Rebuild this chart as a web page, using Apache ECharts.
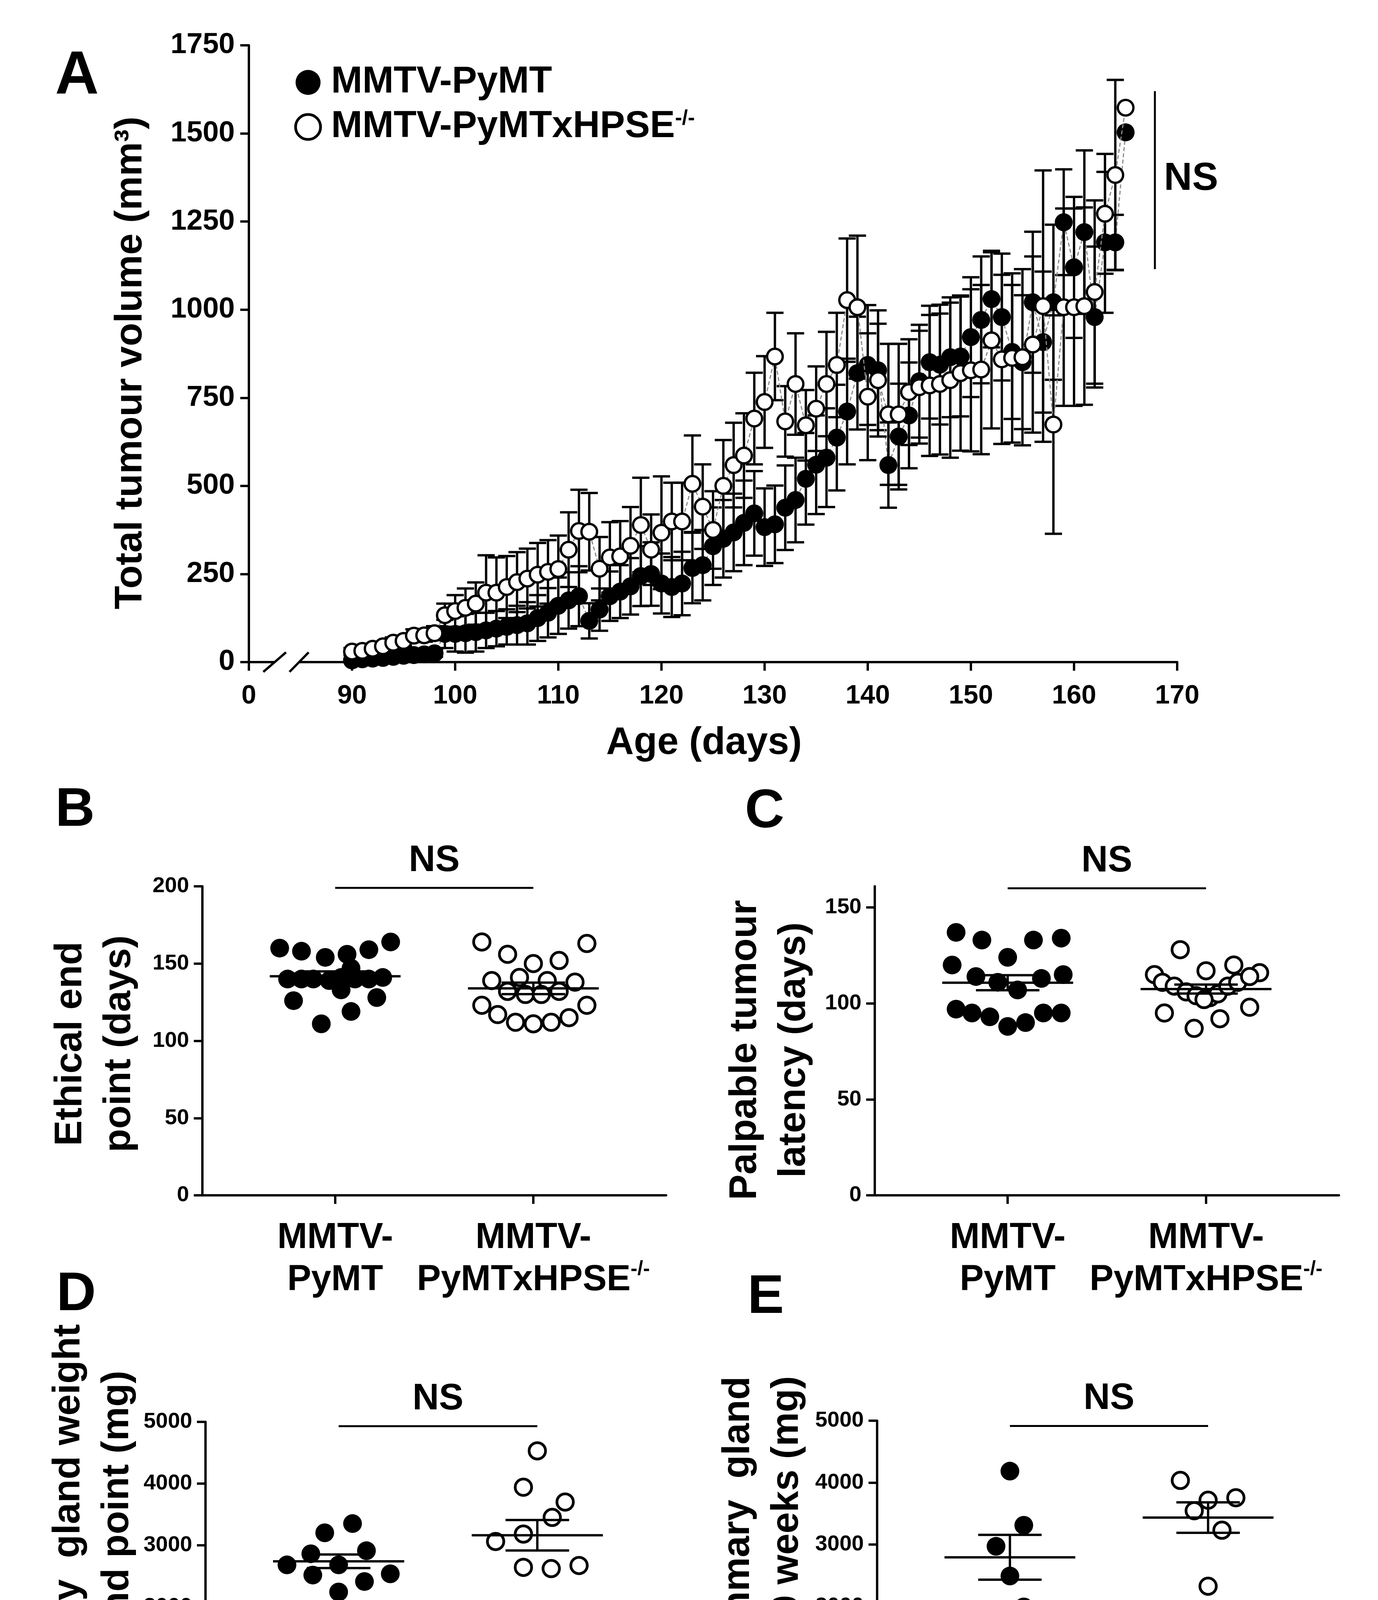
<!DOCTYPE html>
<html>
<head>
<meta charset="utf-8">
<script src="https://cdn.jsdelivr.net/npm/echarts@6/dist/echarts.min.js"></script>
<style>
  html, body { margin: 0; padding: 0; background: #fff; }
  #main { width: 3527px; height: 4851px; }
</style>
</head>
<body>
<div id="main"></div>
<script>
var FONT = '"Liberation Sans", Arial, Helvetica, sans-serif';

// ---- panel A: tumour volume by age (mean, SEM) ----
var days = [90, 91, 92, 93, 94, 95, 96, 97, 98, 99,
  100, 101, 102, 103, 104, 105, 106, 107, 108, 109,
  110, 111, 112, 113, 114, 115, 116, 117, 118, 119,
  120, 121, 122, 123, 124, 125, 126, 127, 128, 129,
  130, 131, 132, 133, 134, 135, 136, 137, 138, 139,
  140, 141, 142, 143, 144, 145, 146, 147, 148, 149,
  150, 151, 152, 153, 154, 155, 156, 157, 158, 159,
  160, 161, 162, 163, 164, 165];
var pymtMean = [5, 8, 10, 12, 15, 18, 20, 22, 25,
  80, 80, 82, 85, 90, 95, 100, 105, 110, 125,
  140, 160, 175, 187, 117, 149, 187, 200, 215, 244,
  250, 223, 213, 223, 267, 275, 329, 350, 368, 395,
  422, 383, 391, 438, 460, 520, 560, 580, 637, 711,
  820, 843, 828, 559, 640, 700, 797, 851, 844, 865,
  867, 922, 971, 1030, 979, 880, 851, 1021, 908, 1021,
  1248, 1120, 1220, 979, 1191, 1191, 1503];
var pymtSem = [5, 5, 6, 6, 7, 8, 8, 9, 10,
  40, 50, 55, 55, 50, 50, 50, 55, 60, 65,
  70, 80, 80, 85, 50, 60, 70, 75, 80, 85,
  90, 85, 85, 90, 100, 100, 110, 110, 110, 120,
  120, 110, 110, 120, 120, 130, 140, 140, 150, 150,
  160, 170, 170, 121, 150, 150, 160, 160, 170, 170,
  170, 170, 180, 137, 180, 190, 190, 200, 200, 220,
  150, 200, 232, 200, 200, 78, 0];
var hpseMean = [30, 32, 38, 45, 55, 60, 75, 76, 82,
  133, 145, 154, 166, 197, 197, 213, 227, 237, 248,
  256, 264, 319, 372, 370, 265, 297, 300, 330, 389,
  319, 367, 399, 399, 506, 441, 375, 500, 559, 586,
  691, 738, 867, 683, 789, 672, 719, 789, 843, 1027,
  1007, 753, 800, 703, 703, 766, 780, 785, 789, 800,
  820, 828, 830, 913, 859, 863, 865, 901, 1010, 674,
  1007, 1007, 1010, 1050, 1272, 1382, 1573];
var hpseSem = [10, 10, 12, 12, 15, 15, 18, 18, 20,
  33, 45, 55, 60, 106, 100, 88, 85, 85, 90,
  90, 95, 106, 117, 110, 90, 100, 100, 110, 134,
  100, 160, 110, 110, 137, 120, 110, 130, 120, 120,
  130, 130, 124, 100, 144, 100, 120, 148, 148, 175,
  203, 180, 160, 200, 200, 150, 160, 200, 200, 220,
  220, 230, 240, 250, 240, 240, 250, 250, 385, 310,
  280, 280, 280, 260, 170, 270, 0];
var ageTicks = [80, 90, 100, 110, 120, 130, 140, 150, 160, 170];   // 80 is shown as the broken "0"
var volumeTicks = [0, 250, 500, 750, 1000, 1250, 1500, 1750];

// ---- panels B-E: individual mice (value, horizontal jitter) ----
var bPymt = [160, 158, 154, 156, 159, 164, 140, 140, 140, 139, 141, 140, 140, 141, 147, 133, 126, 128, 119, 111];
var bPymtX = [-0.28, -0.17, -0.05, 0.06, 0.17, 0.28, -0.24, -0.17, -0.11, -0.03, 0.03, 0.10, 0.17, 0.24, 0.08, 0.03, -0.21, 0.21, 0.08, -0.07];
var bHpse = [164, 156, 150, 152, 163, 139, 141, 139, 138, 132, 130, 130, 132, 123, 123, 117, 112, 111, 112, 115];
var bHpseX = [-0.26, -0.13, 0, 0.13, 0.27, -0.21, -0.07, 0.07, 0.21, -0.13, -0.04, 0.04, 0.13, -0.26, 0.27, -0.18, -0.09, 0, 0.09, 0.18];

var cPymt = [137, 133, 124, 133, 134, 120, 114, 111, 107, 113, 115, 97, 95, 93, 88, 90, 95, 95];
var cPymtX = [-0.26, -0.13, 0, 0.13, 0.27, -0.28, -0.16, -0.05, 0.05, 0.17, 0.28, -0.26, -0.18, -0.09, 0, 0.09, 0.18, 0.27];
var cHpse = [128, 115, 117, 120, 116, 111, 109, 106, 104, 103, 105, 109, 111, 114, 95, 87, 92, 98, 102];
var cHpseX = [-0.13, -0.26, 0, 0.14, 0.27, -0.22, -0.16, -0.10, -0.05, 0.02, 0.06, 0.11, 0.16, 0.22, -0.21, -0.06, 0.07, 0.22, -0.01];

var dPymt = [3350, 3200, 2860, 2910, 2680, 2680, 2515, 2535, 2410, 2240];
var dPymtX = [0.07, -0.07, -0.14, 0.14, -0.26, 0, -0.13, 0.26, 0.13, 0];
var dHpse = [4530, 3940, 3700, 3450, 3180, 3060, 2640, 2620, 2670, 1810];
var dHpseX = [0, -0.07, 0.14, 0.075, -0.07, -0.21, -0.07, 0.07, 0.21, 0];

var ePymt = [4185, 3310, 2970, 2490, 1990, 1810];
var ePymtX = [0, 0.07, -0.07, 0, 0.07, -0.07];
var eHpse = [4035, 3715, 3755, 3545, 3230, 2325];
var eHpseX = [-0.14, 0, 0.14, -0.07, 0.07, 0];

var endPointTicks = [0, 50, 100, 150, 200];
var latencyTicks = [0, 50, 100, 150];
var weightTicks = [0, 1000, 2000, 3000, 4000, 5000];
var groups = ['MMTV-\nPyMT', 'MMTV-\nPyMTxHPSE{sup|-/-}'];
var seriesNames = ['MMTV-PyMT', 'MMTV-PyMTxHPSE-/-'];

var chart = echarts.init(document.getElementById('main'));

function axisBase(size, margin) {
  return {
    axisLine: { show: true, onZero: false, lineStyle: { color: '#000', width: 6 } },
    axisTick: { show: true, inside: false, length: 22, lineStyle: { color: '#000', width: 6 } },
    axisLabel: { color: '#000', fontSize: size, fontWeight: 'bold', fontFamily: FONT, margin: margin },
    splitLine: { show: false }
  };
}
function merge(a, b) {
  var o = {};
  for (var k in a) o[k] = a[k];
  for (var j in b) {
    if (o[j] && typeof o[j] === 'object' && typeof b[j] === 'object' && !Array.isArray(b[j])) {
      o[j] = merge(o[j], b[j]);
    } else {
      o[j] = b[j];
    }
  }
  return o;
}

function meanSem(vals) {
  var n = vals.length;
  var m = vals.reduce(function (a, b) { return a + b; }, 0) / n;
  var ss = vals.reduce(function (a, b) { return a + (b - m) * (b - m); }, 0);
  return [m, Math.sqrt(ss / (n - 1)) / Math.sqrt(n)];
}
function dots(vals, offs, cat) {
  return vals.map(function (v, i) { return [cat + offs[i], v]; });
}

var lineW = { stroke: '#000', lineWidth: 6 };

// vertical SEM bar with caps
function errorBar(params, api) {
  var x = api.value(0), m = api.value(1), e = api.value(2);
  if (!e) return null;
  var hi = api.coord([x, m + e]), lo = api.coord([x, m - e]);
  return {
    type: 'group',
    children: [
      { type: 'line', shape: { x1: hi[0], y1: hi[1], x2: lo[0], y2: lo[1] }, style: lineW },
      { type: 'line', shape: { x1: hi[0] - 22, y1: hi[1], x2: hi[0] + 22, y2: hi[1] }, style: lineW },
      { type: 'line', shape: { x1: lo[0] - 22, y1: lo[1], x2: lo[0] + 22, y2: lo[1] }, style: lineW }
    ]
  };
}

// mean line plus SEM whiskers
function meanSemItem(params, api) {
  var x = api.value(0), m = api.value(1), e = api.value(2);
  var a = api.coord([x - 0.33, m]), b = api.coord([x + 0.33, m]);
  var hi = api.coord([x, m + e]), lo = api.coord([x, m - e]);
  var cl = api.coord([x - 0.16, m])[0], cr = api.coord([x + 0.16, m])[0];
  return {
    type: 'group',
    children: [
      { type: 'line', shape: { x1: a[0], y1: a[1], x2: b[0], y2: b[1] }, style: lineW },
      { type: 'line', shape: { x1: hi[0], y1: hi[1], x2: lo[0], y2: lo[1] }, style: lineW },
      { type: 'line', shape: { x1: cl, y1: hi[1], x2: cr, y2: hi[1] }, style: lineW },
      { type: 'line', shape: { x1: cl, y1: lo[1], x2: cr, y2: lo[1] }, style: lineW }
    ]
  };
}

var nsLabel = { show: true, formatter: 'NS', color: '#000', fontSize: 94, fontWeight: 'bold', fontFamily: FONT };
var plain = function (v) { return String(v); };

var grids = [
  { left: 637, top: 116, width: 2376, height: 1579 },
  { left: 518, top: 2269, width: 1187, height: 791 },
  { left: 2239, top: 2269, width: 1188, height: 791 },
  { left: 526, top: 3640, width: 1190, height: 789 },
  { left: 2245, top: 3637, width: 1187, height: 792 }
];

var xAxes = [merge(axisBase(68, 53), {
  type: 'value', gridIndex: 0, min: ageTicks[0], max: ageTicks[ageTicks.length - 1], interval: 10,
  axisLabel: { formatter: function (v) { return v === ageTicks[0] ? '0' : String(v); } }
})];
var yAxes = [merge(axisBase(74, 36), {
  type: 'value', gridIndex: 0, min: 0, max: volumeTicks[volumeTicks.length - 1], interval: 250,
  axisLabel: { formatter: plain }
})];

var series = [
  {
    type: 'custom', name: 'pymtErr', xAxisIndex: 0, yAxisIndex: 0, z: 2,
    renderItem: errorBar,
    data: days.map(function (d, i) { return [d, pymtMean[i], pymtSem[i]]; })
  },
  {
    type: 'line', name: seriesNames[0], xAxisIndex: 0, yAxisIndex: 0, z: 3,
    data: days.map(function (d, i) { return [d, pymtMean[i]]; }),
    symbol: 'circle', symbolSize: 46, showAllSymbol: true,
    itemStyle: { color: '#000', opacity: 1 },
    lineStyle: { color: '#8a8a8a', width: 3, type: [10, 6] }
  },
  {
    type: 'custom', name: 'hpseErr', xAxisIndex: 0, yAxisIndex: 0, z: 4,
    renderItem: errorBar,
    data: days.map(function (d, i) { return [d, hpseMean[i], hpseSem[i]]; })
  },
  {
    type: 'line', name: seriesNames[1], xAxisIndex: 0, yAxisIndex: 0, z: 5,
    data: days.map(function (d, i) { return [d, hpseMean[i]]; }),
    symbol: 'circle', symbolSize: 40, showAllSymbol: true,
    itemStyle: { color: '#fff', borderColor: '#000', borderWidth: 6, opacity: 1 },
    lineStyle: { color: '#8a8a8a', width: 3, type: [10, 6] }
  },
  {
    type: 'line', xAxisIndex: 0, yAxisIndex: 0, z: 6, symbol: 'none',
    data: [[167.84, 1115], [167.84, 1620]],
    lineStyle: { color: '#000', width: 5 }
  },
  {
    type: 'scatter', xAxisIndex: 0, yAxisIndex: 0, z: 6, symbolSize: 0,
    itemStyle: { color: '#000', opacity: 1 },
    data: [[167.84, 1371]],
    label: merge(nsLabel, { position: 'right', distance: 22, fontSize: 100 })
  }
];

var dotPanels = [
  { pymt: bPymt, pymtX: bPymtX, hpse: bHpse, hpseX: bHpseX, max: 200, ticks: endPointTicks, ns: 199 },
  { pymt: cPymt, pymtX: cPymtX, hpse: cHpse, hpseX: cHpseX, max: 161, ticks: latencyTicks, ns: 160 },
  { pymt: dPymt, pymtX: dPymtX, hpse: dHpse, hpseX: dHpseX, max: 5000, ticks: weightTicks, ns: 4930 },
  { pymt: ePymt, pymtX: ePymtX, hpse: eHpse, hpseX: eHpseX, max: 5000, ticks: weightTicks, ns: 4915 }
];

dotPanels.forEach(function (p, k) {
  var gi = k + 1;
  var step = p.ticks[1] - p.ticks[0];
  xAxes.push(merge(axisBase(92, 56), {
    type: 'value', gridIndex: gi, min: 0.33, max: 2.67,
    axisTick: { customValues: [1, 2] },
    axisLabel: {
      customValues: [1, 2], lineHeight: 108,
      formatter: function (v) {
        if (Math.abs(v - 1) < 1e-6) return groups[0];
        if (Math.abs(v - 2) < 1e-6) return groups[1];
        return '';
      },
      rich: { sup: { fontSize: 52, fontWeight: 'bold', fontFamily: FONT, color: '#000', verticalAlign: 'top', lineHeight: 108 } }
    }
  }));
  yAxes.push(merge(axisBase(56, 34), {
    type: 'value', gridIndex: gi, min: 0, max: p.max, interval: step,
    axisTick: { customValues: p.ticks },
    axisLabel: {
      customValues: p.ticks,
      formatter: function (v) { return p.ticks.indexOf(v) >= 0 ? String(v) : ''; }
    }
  }));
  var a = meanSem(p.pymt), b = meanSem(p.hpse);
  series.push({
    type: 'scatter', xAxisIndex: gi, yAxisIndex: gi, z: 2, symbolSize: 48,
    itemStyle: { color: '#000', opacity: 1 }, data: dots(p.pymt, p.pymtX, 1)
  });
  series.push({
    type: 'scatter', xAxisIndex: gi, yAxisIndex: gi, z: 2, symbolSize: 42,
    itemStyle: { color: '#fff', borderColor: '#000', borderWidth: 7, opacity: 1 }, data: dots(p.hpse, p.hpseX, 2)
  });
  series.push({
    type: 'custom', xAxisIndex: gi, yAxisIndex: gi, z: 4, renderItem: meanSemItem,
    data: [[1, a[0], a[1]], [2, b[0], b[1]]]
  });
  series.push({
    type: 'line', xAxisIndex: gi, yAxisIndex: gi, z: 4, symbol: 'none',
    data: [[1, p.ns], [2, p.ns]], lineStyle: { color: '#000', width: 5 }
  });
  series.push({
    type: 'scatter', xAxisIndex: gi, yAxisIndex: gi, z: 4, symbolSize: 0,
    itemStyle: { color: '#000', opacity: 1 }, data: [[1.5, p.ns]],
    label: merge(nsLabel, { position: 'top', distance: 22 })
  });
});

var option = {
  backgroundColor: '#fff',
  animation: false,
  grid: grids,
  xAxis: xAxes,
  yAxis: yAxes,
  legend: {
    left: 748, top: 158, orient: 'vertical', selectedMode: false,
    itemWidth: 64, itemHeight: 64, itemGap: 18,
    data: [
      { name: seriesNames[0], icon: 'circle', itemStyle: { color: '#000', borderWidth: 0 } },
      { name: seriesNames[1], icon: 'circle', itemStyle: { color: '#fff', borderColor: '#000', borderWidth: 7 } }
    ],
    formatter: function (n) { return n.replace('-/-', '{sup|-/-}'); },
    textStyle: {
      color: '#000', fontSize: 96, fontWeight: 'bold', fontFamily: FONT, padding: [0, 0, 0, 22],
      rich: { sup: { fontSize: 54, fontWeight: 'bold', fontFamily: FONT, color: '#000', verticalAlign: 'top' } }
    }
  },
  series: series
};
chart.setOption(option);

// axis titles, panel letters and the axis break
var titles = [
  { text: 'Total tumour volume (mm³)', x: 335, y: 929, rot: true },
  { text: 'Age (days)', x: 1802, y: 1903, rot: false },
  { text: 'Ethical end\npoint (days)', x: 243, y: 2672, rot: true },
  { text: 'Palpable tumour\nlatency (days)', x: 1970, y: 2688, rot: true },
  { text: 'Total mammary  gland weight\nat ethical end point (mg)', x: 238, y: 4075, rot: true },
  { text: 'Total mammary  gland\nweight, 20 weeks (mg)', x: 1952, y: 4040, rot: true }
];
var letters = [
  { text: 'A', x: 197, y: 196, size: 155 },
  { text: 'B', x: 192, y: 2075, size: 140 },
  { text: 'C', x: 1957, y: 2079, size: 140 },
  { text: 'D', x: 195, y: 3315, size: 140 },
  { text: 'E', x: 1960, y: 3322, size: 140 }
];

var graphic = [];
titles.forEach(function (t) {
  graphic.push({
    type: 'text', x: t.x, y: t.y, rotation: t.rot ? Math.PI / 2 : 0,
    style: {
      text: t.text, fill: '#000', fontSize: 98, fontWeight: 'bold', fontFamily: FONT,
      align: 'center', verticalAlign: 'middle', lineHeight: 125
    }
  });
});
letters.forEach(function (t) {
  graphic.push({
    type: 'text', x: t.x, y: t.y,
    style: {
      text: t.text, fill: '#000', fontSize: t.size, fontWeight: 'bold', fontFamily: FONT,
      align: 'center', verticalAlign: 'middle'
    }
  });
});

var origin = chart.convertToPixel({ xAxisIndex: 0, yAxisIndex: 0 }, [ageTicks[0], 0]);
var ox = origin[0], oy = origin[1];
graphic.push({
  type: 'rect', shape: { x: ox + 68, y: oy - 6, width: 62, height: 12 },
  style: { fill: '#fff' }, z: 100
});
graphic.push({
  type: 'line', shape: { x1: ox + 37, y1: oy + 25, x2: ox + 95, y2: oy - 25 },
  style: { stroke: '#000', lineWidth: 6 }, z: 101
});
graphic.push({
  type: 'line', shape: { x1: ox + 104, y1: oy + 25, x2: ox + 153, y2: oy - 25 },
  style: { stroke: '#000', lineWidth: 6 }, z: 101
});

chart.setOption({ graphic: graphic });
</script>
</body>
</html>
